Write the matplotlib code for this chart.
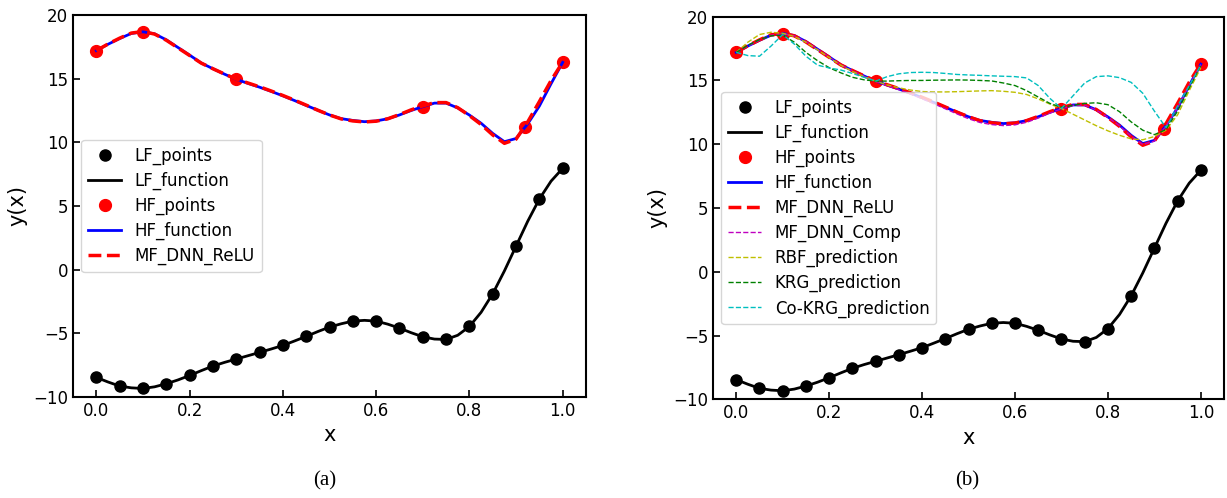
import numpy as np
import matplotlib
matplotlib.use('Agg')
import matplotlib.pyplot as plt

# sample grids
x_pts = np.linspace(0.0, 1.0, 21)     # low fidelity samples
x_fine = np.linspace(0.0, 1.0, 41)    # curve evaluation grid
x_hf = [0.0, 0.1, 0.3, 0.7, 0.92, 1.0]

lf_points = [-8.46, -9.14, -9.33, -8.96, -8.31, -7.57, -7.02, -6.50, -5.95, -5.24,
             -4.51, -4.04, -4.04, -4.59, -5.27, -5.48, -4.46, -1.89, 1.85, 5.55, 7.96]
hf_points = [17.2, 18.66, 14.95, 12.80, 11.17, 16.28]

lf_function = [-8.46, -8.82, -9.14, -9.28, -9.33, -9.20, -8.96, -8.66, -8.31, -7.93,
               -7.57, -7.28, -7.02, -6.76, -6.50, -6.23, -5.95, -5.60, -5.24, -4.86,
               -4.51, -4.25, -4.04, -3.98, -4.04, -4.28, -4.59, -4.95, -5.27, -5.45,
               -5.48, -5.15, -4.46, -3.35, -1.89, -0.10, 1.85, 3.80, 5.55, 6.95, 7.96]

hf_function = [17.20, 17.70, 18.15, 18.55, 18.68, 18.52, 18.05, 17.45, 16.85, 16.23,
               15.78, 15.35, 14.95, 14.63, 14.33, 14.00, 13.65, 13.28, 12.90, 12.52,
               12.15, 11.86, 11.72, 11.62, 11.68, 11.85, 12.15, 12.50, 12.80, 13.08,
               13.08, 12.70, 12.14, 11.50, 10.70, 10.05, 10.30, 11.45, 12.85, 14.60, 16.28]

mf_dnn_relu = [17.20, 17.72, 18.18, 18.58, 18.70, 18.50, 18.02, 17.42, 16.82, 16.22,
               15.78, 15.36, 14.97, 14.66, 14.36, 14.03, 13.68, 13.31, 12.92, 12.52,
               12.15, 11.84, 11.68, 11.60, 11.66, 11.85, 12.18, 12.55, 12.86, 13.12,
               13.12, 12.72, 12.10, 11.40, 10.58, 9.92, 10.25, 11.60, 13.20, 14.85, 16.30]

mf_dnn_comp = [17.20, 17.70, 18.15, 18.55, 18.66, 18.50, 18.04, 17.44, 16.84, 16.22,
               15.76, 15.33, 14.93, 14.60, 14.28, 13.94, 13.57, 13.18, 12.78, 12.38,
               12.00, 11.70, 11.54, 11.46, 11.52, 11.72, 12.05, 12.44, 12.78, 13.06,
               13.06, 12.68, 12.10, 11.44, 10.62, 9.98, 10.24, 11.42, 12.85, 14.60, 16.25]

rbf_prediction = [17.20, 18.00, 18.60, 18.78, 18.70, 18.45, 18.00, 17.40, 16.80, 16.20,
                  15.70, 15.30, 14.95, 14.65, 14.42, 14.25, 14.13, 14.10, 14.10, 14.12,
                  14.15, 14.18, 14.20, 14.15, 14.07, 13.90, 13.55, 13.15, 12.80, 12.35,
                  11.90, 11.45, 11.05, 10.70, 10.42, 10.35, 10.60, 11.10, 12.30, 14.20, 16.00]

krg_prediction = [17.20, 17.75, 18.20, 18.50, 18.55, 18.00, 17.20, 16.55, 16.00, 15.60,
                  15.25, 15.05, 14.95, 14.95, 14.98, 15.00, 15.00, 15.02, 15.03, 15.04,
                  15.03, 15.00, 14.96, 14.80, 14.60, 14.20, 13.70, 13.20, 12.90, 13.05,
                  13.20, 13.25, 13.10, 12.55, 11.75, 11.10, 10.75, 11.15, 12.60, 14.40, 16.20]

cokrg_prediction = [17.20, 16.95, 16.90, 17.70, 18.60, 17.85, 16.90, 16.20, 15.98, 15.82,
                    15.55, 15.25, 14.95, 15.30, 15.52, 15.62, 15.64, 15.62, 15.55, 15.47,
                    15.43, 15.40, 15.36, 15.33, 15.30, 15.20, 14.60, 13.60, 12.80, 13.80,
                    14.80, 15.30, 15.36, 15.22, 14.85, 14.00, 12.60, 11.30, 13.00, 14.60, 16.20]

plt.rcParams['font.family'] = 'DejaVu Sans'
fig = plt.figure(figsize=(12.27, 4.98), dpi=100)
ax1 = fig.add_axes([0.0595, 0.2028, 0.4181, 0.7671])
ax2 = fig.add_axes([0.5811, 0.1982, 0.4165, 0.7683])


def base_curves(ax):
    ax.plot(x_pts, lf_points, 'o', color='k', markersize=8, label='LF_points')
    ax.plot(x_fine, lf_function, '-', color='k', linewidth=2, label='LF_function')
    ax.plot(x_hf, hf_points, 'o', color='r', markersize=8.5, label='HF_points')
    ax.plot(x_fine, hf_function, '-', color='b', linewidth=2, label='HF_function')
    ax.plot(x_fine, mf_dnn_relu, '--', color='r', linewidth=2.5, label='MF_DNN_ReLU')


def style_axes(ax):
    ax.set_ylim(-10, 20)
    ax.set_xlim(-0.05, 1.05)
    ax.set_yticks([-10, -5, 0, 5, 10, 15, 20])
    ax.set_xticks([0.0, 0.2, 0.4, 0.6, 0.8, 1.0])
    ax.tick_params(direction='in', length=5, width=1.2, labelsize=12)
    for sp in ax.spines.values():
        sp.set_linewidth(1.5)
    ax.set_xlabel('x', fontsize=15)
    ax.set_ylabel('y(x)', fontsize=15)
    ax.legend(loc='center left', fontsize=12, labelspacing=0.41)


base_curves(ax1)
style_axes(ax1)

base_curves(ax2)
ax2.plot(x_fine, mf_dnn_comp, '--', color='m', linewidth=1, label='MF_DNN_Comp')
ax2.plot(x_fine, rbf_prediction, '--', color='y', linewidth=1, label='RBF_prediction')
ax2.plot(x_fine, krg_prediction, '--', color='g', linewidth=1, label='KRG_prediction')
ax2.plot(x_fine, cokrg_prediction, '--', color='c', linewidth=1, label='Co-KRG_prediction')
style_axes(ax2)

fig.text(325 / 1227, 1 - 481 / 498, '(a)', family='Liberation Serif', fontsize=15,
         ha='center', va='center')
fig.text(967 / 1227, 1 - 481 / 498, '(b)', family='Liberation Serif', fontsize=15,
         ha='center', va='center')

fig.savefig('out.png', dpi=100)
